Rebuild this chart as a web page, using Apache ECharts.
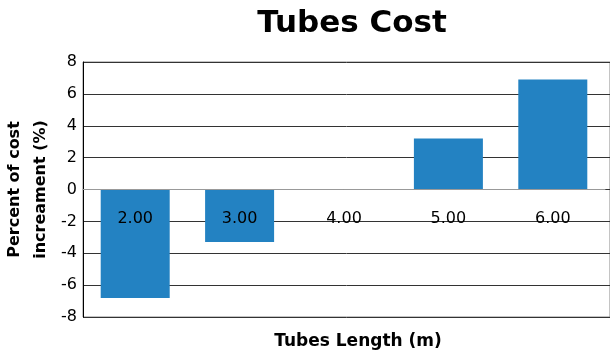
<!DOCTYPE html>
<html>
<head>
<meta charset="utf-8">
<script src="https://cdn.jsdelivr.net/npm/echarts@6.0.0/dist/echarts.min.js"></script>
<style>
  html, body { margin: 0; padding: 0; background: #fff; }
  #tubesChart { width: 610px; height: 353px; }
</style>
</head>
<body>
<div id="tubesChart"></div>
<script>
  // data
  var lengths = ['2.00', '3.00', '4.00', '5.00', '6.00']
  var costIncrease = [-6.8, -3.3, 0, 3.2, 6.9]
  var yMin = -8
  var yMax = 8
  var yStep = 2

  var font = 'DejaVu Sans'
  var chart = echarts.init(document.getElementById('tubesChart'))

  chart.setOption({
    animation: false,
    title: [{
      text: 'Tubes Cost',
      left: 347,
      textAlign: 'center',
      top: 3,
      textStyle: { fontFamily: font, fontSize: 31, fontWeight: 'bold', color: '#000' }
    }, {
      text: 'Tubes Length (m)',
      left: 353,
      textAlign: 'center',
      top: 328,
      textStyle: { fontFamily: font, fontSize: 17, fontWeight: 'bold', color: '#000' }
    }],
    grid: [
      // background grid, lines run to the right edge
      { left: 83, right: 0, top: 62, bottom: 36, outerBoundsMode: 'none', containLabel: false,
        show: true, borderColor: '#888', borderWidth: 1 },
      // bars
      { left: 83, right: 5, top: 62, bottom: 36, outerBoundsMode: 'none', containLabel: false }
    ],
    xAxis: [{
      gridIndex: 0,
      type: 'value',
      min: 0,
      max: 1,
      show: false
    }, {
      gridIndex: 1,
      type: 'category',
      data: lengths,
      z: 5,
      // sit the category axis on the zero line
      position: 'bottom',
      offset: -127.5,
      axisLine: { onZero: false, lineStyle: { color: '#999', width: 1 } },
      axisTick: { show: false },
      axisLabel: { margin: 21, fontFamily: font, fontSize: 16, color: '#000' }
    }],
    yAxis: [{
      gridIndex: 0,
      type: 'value',
      min: yMin,
      max: yMax,
      interval: yStep,
      name: 'Percent of cost\nincreament (%)',
      nameLocation: 'middle',
      nameGap: 29,
      nameMoveOverlap: false,
      nameTextStyle: { fontFamily: font, fontSize: 16, fontWeight: 'bold', color: '#000', lineHeight: 26 },
      axisLine: { show: true, lineStyle: { color: '#000', width: 1 } },
      axisTick: { show: false },
      axisLabel: { margin: 6, fontFamily: font, fontSize: 16, color: '#000', padding: [3, 0, 0, 0] },
      splitLine: { lineStyle: { color: '#333', width: 1 } }
    }, {
      gridIndex: 1,
      type: 'value',
      min: yMin,
      max: yMax,
      interval: yStep,
      axisLine: { show: false },
      axisTick: { show: false },
      axisLabel: { show: false },
      splitLine: { show: false }
    }],
    series: [{
      type: 'bar',
      xAxisIndex: 1,
      yAxisIndex: 1,
      data: costIncrease,
      barWidth: 69,
      itemStyle: { color: '#2382c2' }
    }]
  })
</script>
</body>
</html>
